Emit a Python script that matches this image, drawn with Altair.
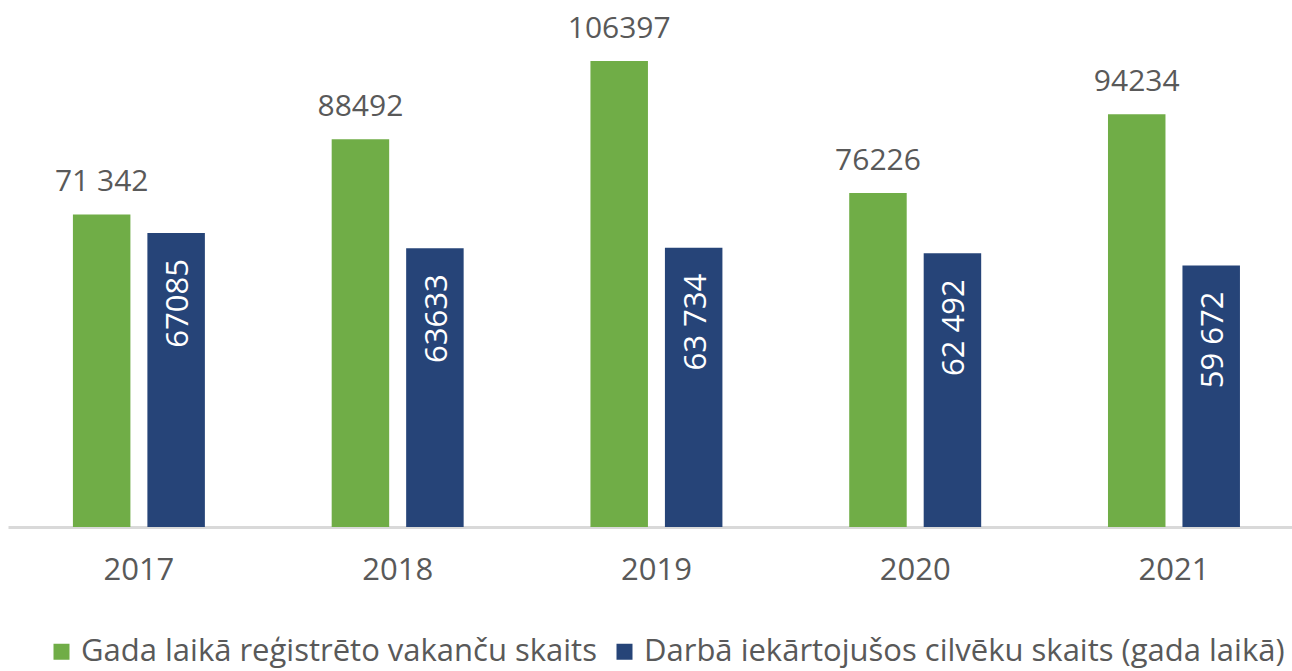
import altair as alt
import pandas as pd

years = ["2017", "2018", "2019", "2020", "2021"]
vacancies = [71342, 88492, 106397, 76226, 94234]
vacancy_labels = ["71 342", "88492", "106397", "76226", "94234"]
employed = [67085, 63633, 63734, 62492, 59672]
employed_labels = ["67085", "63633", "63 734", "62 492", "59 672"]
series_names = ["Gada laikā reģistrēto vakanču skaits", "Darbā iekārtojušos cilvēku skaits (gada laikā)"]

rows = []
for y, v, l in zip(years, vacancies, vacancy_labels):
    rows.append({"year": y, "series": series_names[0], "value": v, "label": l})
for y, v, l in zip(years, employed, employed_labels):
    rows.append({"year": y, "series": series_names[1], "value": v, "label": l})
df = pd.DataFrame(rows)

FONT = "Open Sans"
GRAY = "#595959"

x = alt.X("year:N", title=None, sort=years,
          scale=alt.Scale(paddingInner=0.49, paddingOuter=0.226, align=0.555),
          axis=alt.Axis(labelAngle=0, labelFontSize=31, labelColor=GRAY, labelFont=FONT,
                        domainColor="#d9d9d9", domainWidth=3, ticks=False, labelPadding=28))
xo = alt.XOffset("series:N", sort=series_names, scale=alt.Scale(paddingInner=0.228, paddingOuter=0))
y = alt.Y("value:Q", scale=alt.Scale(domain=[0, 120300]), axis=None)

base = alt.Chart(df).encode(x=x, xOffset=xo, y=y)

bars = base.mark_bar().encode(
    color=alt.Color("series:N", sort=series_names,
                    scale=alt.Scale(domain=series_names, range=["#70AD47", "#264478"]),
                    legend=alt.Legend(title=None, orient="none", legendX=38, legendY=636,
                                      direction="horizontal", symbolType="square",
                                      symbolSize=256, symbolStrokeWidth=0, labelFontSize=31,
                                      labelFont=FONT, labelColor=GRAY, labelLimit=0,
                                      columnPadding=12, labelOffset=4, padding=0,
                                      symbolOffset=0))
)

green_text = base.transform_filter(alt.datum.series == series_names[0]).mark_text(
    baseline="bottom", dy=-17, fontSize=30, font=FONT, color=GRAY
).encode(text="label:N")

blue_text = base.transform_filter(alt.datum.series == series_names[1]).mark_text(
    angle=270, align="right", baseline="middle", dx=-26, dy=3, fontSize=31, font=FONT, color="white"
).encode(text="label:N")

chart = alt.layer(bars, green_text, blue_text).properties(
    width=1284, height=527,
    padding={"left": 8, "top": 0, "right": 0, "bottom": 144},
    autosize=alt.AutoSizeParams(type="none"),
).configure_view(stroke=None)

chart.save("out.html", embed_options={"renderer": "svg", "actions": False})
